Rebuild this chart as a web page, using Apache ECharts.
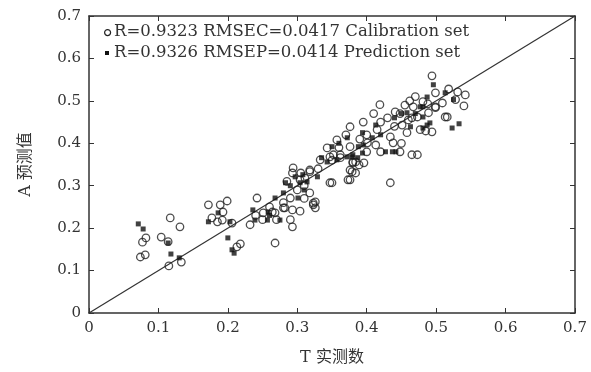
<!DOCTYPE html>
<html>
<head>
<meta charset="utf-8">
<script src="https://cdn.jsdelivr.net/npm/echarts@6/dist/echarts.min.js"></script>
<style>
  html, body { margin: 0; padding: 0; background: #fff; }
  #main { width: 591px; height: 372px; }
</style>
</head>
<body>
<div id="main"></div>
<script>
// 校正集 (空心圆)
var calibration = [
  [0.074,0.132],[0.081,0.137],[0.077,0.167],[0.082,0.177],[0.104,0.179],[0.114,0.168],[0.117,0.224],[0.131,0.203],[0.115,0.111],[0.133,0.120],
  [0.172,0.255],[0.189,0.255],[0.199,0.264],[0.193,0.238],[0.177,0.224],[0.185,0.215],[0.192,0.219],[0.206,0.212],[0.218,0.163],[0.213,0.156],[0.232,0.208],
  [0.242,0.271],[0.268,0.165],[0.251,0.236],[0.264,0.238],[0.268,0.236],[0.280,0.248],[0.293,0.203],[0.282,0.248],[0.293,0.243],[0.304,0.240],
  [0.293,0.330],[0.294,0.342],[0.290,0.271],[0.318,0.283],[0.311,0.318],[0.318,0.333],[0.323,0.259],[0.326,0.248],[0.350,0.307],
  [0.333,0.361],[0.347,0.368],[0.362,0.373],[0.380,0.354],[0.384,0.330],[0.373,0.314],[0.389,0.349],[0.396,0.354],
  [0.419,0.491],[0.441,0.474],[0.467,0.486],[0.488,0.493],[0.499,0.484],[0.516,0.462],[0.376,0.439],[0.415,0.432],[0.401,0.401],
  [0.413,0.396],[0.434,0.415],[0.438,0.401],[0.448,0.380],[0.465,0.373],[0.473,0.373],[0.434,0.307],[0.376,0.392],[0.384,0.356],
  [0.379,0.333],[0.376,0.314],[0.362,0.366],[0.451,0.443],[0.458,0.425],[0.477,0.432],[0.485,0.429],[0.473,0.462],[0.465,0.460],
  [0.494,0.559],[0.499,0.519],[0.518,0.528],[0.531,0.521],[0.542,0.514],[0.528,0.503],[0.540,0.488],[0.509,0.495],[0.513,0.462],
  [0.494,0.427],[0.499,0.486],[0.481,0.498],[0.489,0.472],
  [0.357,0.408],[0.343,0.389],[0.352,0.373],[0.318,0.337],[0.304,0.314],[0.347,0.307],[0.376,0.337],[0.380,0.356],[0.323,0.255],[0.326,0.262],
  [0.455,0.490],[0.462,0.500],[0.470,0.510],[0.448,0.470],[0.460,0.455],[0.440,0.440],[0.420,0.450],[0.430,0.460],[0.400,0.420],
  [0.390,0.410],[0.360,0.390],[0.350,0.360],[0.330,0.340],[0.310,0.300],[0.300,0.290],[0.280,0.260],[0.260,0.250],[0.250,0.220],
  [0.240,0.230],[0.270,0.220],[0.290,0.220],[0.310,0.270],[0.285,0.310],[0.305,0.330],[0.395,0.450],[0.410,0.470],[0.370,0.420],
  [0.450,0.400],[0.420,0.380],[0.400,0.380]
];
// 预测集 (实心方块)
var prediction = [
  [0.071,0.210],[0.078,0.198],[0.114,0.165],[0.118,0.139],[0.130,0.130],[0.186,0.236],[0.172,0.215],[0.203,0.215],[0.200,0.177],
  [0.206,0.149],[0.209,0.141],[0.236,0.243],[0.239,0.219],[0.258,0.238],[0.257,0.219],[0.275,0.219],[0.268,0.271],[0.280,0.283],
  [0.283,0.307],[0.297,0.321],[0.304,0.307],[0.301,0.271],[0.314,0.309],[0.329,0.321],[0.343,0.356],[0.357,0.361],[0.372,0.368],
  [0.387,0.366],[0.394,0.377],[0.458,0.472],[0.481,0.486],[0.525,0.503],[0.413,0.443],[0.394,0.425],[0.408,0.413],[0.395,0.396],
  [0.437,0.380],[0.427,0.380],[0.379,0.368],[0.388,0.392],[0.463,0.439],[0.487,0.443],[0.481,0.462],[0.496,0.538],[0.513,0.519],
  [0.523,0.436],[0.533,0.446],[0.491,0.448],[0.487,0.509],[0.477,0.486],[0.481,0.436],[0.372,0.413],[0.350,0.392],[0.335,0.366],
  [0.308,0.326],[0.380,0.373],[0.442,0.380],[0.450,0.470],[0.440,0.460],[0.470,0.470],[0.420,0.420],[0.360,0.400],[0.260,0.230],
  [0.290,0.300],[0.310,0.290]
];
var diagonal = [[0, 0], [0.7, 0.7]];
var legendLines = [
  "R=0.9323 RMSEC=0.0417 Calibration set",
  "R=0.9326 RMSEP=0.0414 Prediction set"
];
var xName = "T 实测数";
var yName = "A 预测值";

var font = "'DejaVu Serif', 'Noto Sans CJK SC', serif";
var ink = "#333";

var chart = echarts.init(document.getElementById("main"), null, { renderer: "canvas" });

function axisCommon(showLabel) {
  return {
    type: "value",
    min: 0,
    max: 0.7,
    interval: 0.1,
    splitLine: { show: false },
    axisLine: { show: true, onZero: false, lineStyle: { color: ink, width: 1.5 } },
    axisTick: { show: true, inside: true, length: 5, lineStyle: { color: ink, width: 1 } },
    axisLabel: {
      show: showLabel,
      color: ink,
      fontFamily: font,
      fontSize: 15,
      margin: 8,
      formatter: function (v) { return v === 0 ? "0" : String(+v.toFixed(1)); }
    }
  };
}

var option = {
  animation: false,
  grid: { left: 89, right: 16, top: 16, bottom: 59, containLabel: false },
  xAxis: [
    Object.assign(axisCommon(true), {
      position: "bottom",
      name: xName,
      nameLocation: "middle",
      nameGap: 37,
      nameTextStyle: { color: ink, fontFamily: font, fontSize: 16 }
    }),
    Object.assign(axisCommon(false), { position: "top" })
  ],
  yAxis: [
    Object.assign(axisCommon(true), {
      position: "left",
      name: yName,
      nameLocation: "middle",
      nameGap: 55,
      nameTextStyle: { color: ink, fontFamily: font, fontSize: 16 }
    }),
    Object.assign(axisCommon(false), { position: "right" })
  ],
  graphic: [
    {
      type: "circle", left: 104, top: 29,
      shape: { r: 3 }, style: { fill: "#fff", stroke: "#222", lineWidth: 1.2 }
    },
    {
      type: "rect", left: 105, top: 51,
      shape: { width: 4, height: 4 }, style: { fill: "#111" }
    },
    {
      type: "text", left: 114, top: 23,
      style: { text: legendLines[0], fill: ink, font: "16.5px " + font }
    },
    {
      type: "text", left: 114, top: 44,
      style: { text: legendLines[1], fill: ink, font: "16.5px " + font }
    }
  ],
  series: [
    {
      type: "line",
      data: diagonal,
      symbol: "none",
      silent: true,
      lineStyle: { color: "#333", width: 1.2 },
      z: 1
    },
    {
      name: "Calibration set",
      type: "scatter",
      data: calibration,
      symbol: "circle",
      symbolSize: 7.5,
      itemStyle: { color: "rgba(255,255,255,0)", borderColor: "#222", borderWidth: 1.3 },
      z: 3
    },
    {
      name: "Prediction set",
      type: "scatter",
      data: prediction,
      symbol: "rect",
      symbolSize: 5,
      itemStyle: { color: "#111" },
      z: 4
    }
  ]
};

chart.setOption(option);
</script>
</body>
</html>
